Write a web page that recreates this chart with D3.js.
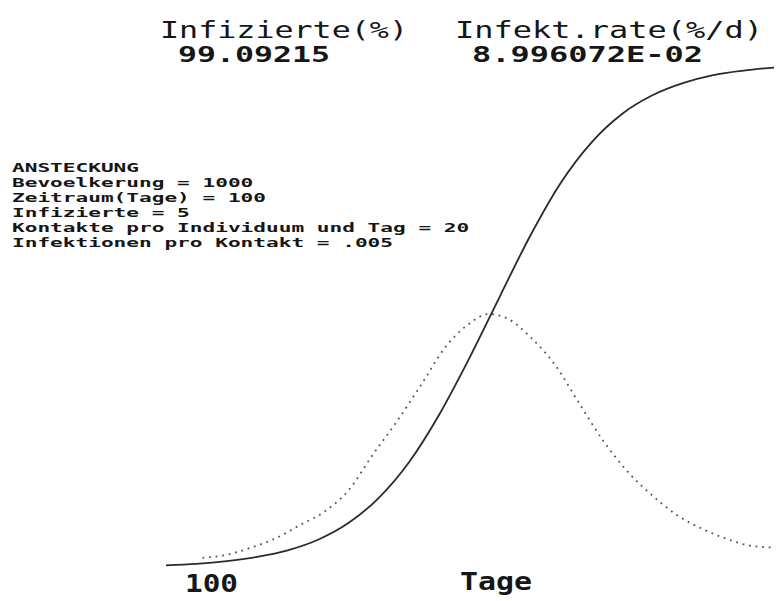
<!doctype html>
<html>
  <head>
    <meta charset="utf-8" />
    <title>Ansteckung</title>
    <style>
      body { margin: 0; background: #fff; }
      svg { display: block; }
      text { font-family: "DejaVu Sans Mono", "Liberation Mono", monospace; fill: #161616; }
    </style>
  </head>
  <body>
    <svg id="chart" width="780" height="601"></svg>
    <script src="https://d3js.org/d3.v7.min.js"></script>
    <script>
      // Infizierte (%), every 5 days
      const days = [0, 5, 10, 15, 20, 25, 30, 35, 40, 45, 50, 55, 60, 65, 70, 75, 80, 85, 90, 95, 100];
      const infiziert = [0.5, 0.8, 1.35, 2.2, 3.5, 5.6, 8.9, 13.9, 21.0, 30.5, 41.8, 54.0, 66.0, 76.4, 84.3, 89.9, 93.6, 96.0, 97.6, 98.5, 99.1];

      // Infektionsrate (%/d)
      const rateDays = [6, 10, 14, 18, 22, 26, 30, 34, 38, 42, 46, 50, 53, 56, 60, 64, 68, 72, 76, 80, 84, 88, 92, 96, 100];
      const rate = [0.1, 0.13, 0.2, 0.29, 0.42, 0.55, 0.76, 1.11, 1.44, 1.8, 2.17, 2.4, 2.49, 2.45, 2.26, 1.99, 1.61, 1.24, 0.94, 0.71, 0.52, 0.39, 0.29, 0.22, 0.2];

      const headers = ["Infizierte(%)", "Infekt.rate(%/d)"];
      const headerValues = ["99.09215", "8.996072E-02"];
      const params = [
        "ANSTECKUNG",
        "Bevoelkerung = 1000",
        "Zeitraum(Tage) = 100",
        "Infizierte = 5",
        "Kontakte pro Individuum und Tag = 20",
        "Infektionen pro Kontakt = .005",
      ];
      const xLabels = ["100", "Tage"];

      const svg = d3.select("#chart");

      const x = d3.scaleLinear().domain([0, 100]).range([166, 774]);
      const yPct = d3.scaleLinear().domain([0, 100]).range([568, 63]);
      const yRate = d3.scaleLinear().domain([0, 2.5]).range([568, 313]);

      // header text, stretched to the wide DOS-like glyphs
      const headX = [160, 455];
      const headW = [248, 308];
      const valX = [178, 472];
      const valW = [152, 231];
      headers.forEach((h, i) => {
        svg.append("text")
          .attr("x", headX[i]).attr("y", 38)
          .attr("font-size", 23)
          .attr("textLength", headW[i])
          .attr("lengthAdjust", "spacingAndGlyphs")
          .text(h);
        svg.append("text")
          .attr("x", valX[i]).attr("y", 62)
          .attr("font-size", 21)
          .attr("font-weight", "bold")
          .attr("textLength", valW[i])
          .attr("lengthAdjust", "spacingAndGlyphs")
          .text(headerValues[i]);
      });

      // parameter block
      svg.append("g")
        .selectAll("text")
        .data(params)
        .join("text")
        .attr("x", 12)
        .attr("y", (d, i) => 172 + i * 15)
        .attr("font-size", 13)
        .attr("font-weight", "bold")
        .attr("textLength", (d) => d.length * 12.7)
        .attr("lengthAdjust", "spacingAndGlyphs")
        .text((d) => d);

      // x labels
      svg.append("text")
        .attr("x", 185).attr("y", 592)
        .attr("font-size", 24).attr("font-weight", "bold")
        .attr("textLength", 53).attr("lengthAdjust", "spacingAndGlyphs")
        .text(xLabels[0]);
      svg.append("text")
        .attr("x", 460).attr("y", 590)
        .attr("font-size", 24).attr("font-weight", "bold")
        .attr("textLength", 72).attr("lengthAdjust", "spacingAndGlyphs")
        .text(xLabels[1]);

      // dotted rate curve
      const rateLine = d3.line()
        .x((d, i) => x(rateDays[i]))
        .y((d) => yRate(d))
        .curve(d3.curveMonotoneX);
      svg.append("path")
        .attr("d", rateLine(rate))
        .attr("fill", "none")
        .attr("stroke", "#555")
        .attr("stroke-width", 1.8)
        .attr("stroke-dasharray", "1.8 4.8");

      // solid infected curve
      const pctLine = d3.line()
        .x((d, i) => x(days[i]))
        .y((d) => yPct(d))
        .curve(d3.curveMonotoneX);
      svg.append("path")
        .attr("d", pctLine(infiziert))
        .attr("fill", "none")
        .attr("stroke", "#2a2a2a")
        .attr("stroke-width", 1.8);
    </script>
  </body>
</html>
